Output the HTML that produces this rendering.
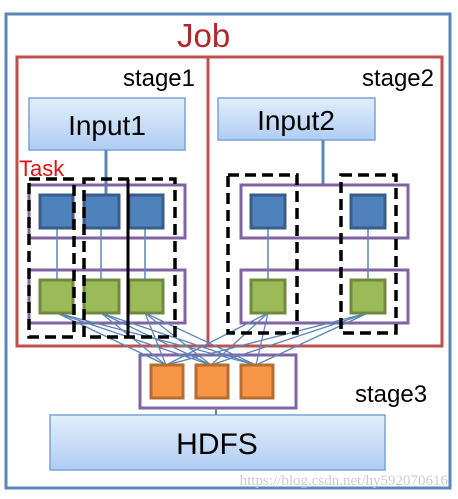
<!DOCTYPE html>
<html><head><meta charset="utf-8"><style>body{margin:0;background:#fff}svg{display:block}</style></head><body>
<svg width="458" height="499" viewBox="0 0 458 499" xmlns="http://www.w3.org/2000/svg" font-family="'Liberation Sans', sans-serif">
<defs>
<linearGradient id="g" x1="0" y1="0" x2="0" y2="1"><stop offset="0" stop-color="#e3eefb"/><stop offset="1" stop-color="#aecdf2"/></linearGradient>
</defs>
<rect x="6" y="14" width="444" height="474" fill="#fff" stroke="#5b86b8" stroke-width="3"/>
<text x="177" y="47" font-size="33" fill="#b5262b">Job</text>
<rect x="17" y="57" width="425" height="289" fill="none" stroke="#c0504d" stroke-width="3"/>
<line x1="208" y1="57" x2="208" y2="346" stroke="#c0504d" stroke-width="3"/>
<text x="195" y="86" font-size="24" text-anchor="end">stage1</text>
<text x="434" y="86" font-size="24" text-anchor="end">stage2</text>
<rect x="29" y="98" width="156" height="52" fill="url(#g)" stroke="#7aa3d6" stroke-width="1.5"/>
<text x="107" y="135" font-size="28" text-anchor="middle">Input1</text>
<rect x="218" y="98" width="157" height="42" fill="url(#g)" stroke="#7aa3d6" stroke-width="1.5"/>
<text x="296" y="130" font-size="28" text-anchor="middle">Input2</text>
<line x1="106" y1="150" x2="106" y2="205" stroke="#5b86b8" stroke-width="3"/>
<line x1="323" y1="140" x2="323" y2="185" stroke="#5b86b8" stroke-width="3"/>
<text x="19" y="176" font-size="22" fill="#e01010">Task</text>
<g fill="none" stroke="#8064a2" stroke-width="3">
<rect x="29" y="185" width="156" height="53"/><rect x="29" y="270" width="156" height="53"/>
<rect x="241" y="185" width="167" height="53"/><rect x="241" y="270" width="167" height="53"/>
<rect x="140" y="355" width="156" height="53"/>
</g>
<g stroke="#5b86b8" stroke-width="1.5">
<line x1="57" y1="229" x2="57" y2="280"/><line x1="101" y1="229" x2="101" y2="280"/><line x1="145" y1="229" x2="145" y2="280"/>
<line x1="268" y1="228" x2="268" y2="280"/><line x1="368" y1="228" x2="368" y2="280"/>
<line x1="216" y1="408" x2="216" y2="415" stroke-width="2"/>
<g stroke-width="1.3">
<line x1="57" y1="313" x2="166" y2="365"/><line x1="57" y1="313" x2="211" y2="365"/><line x1="57" y1="313" x2="256" y2="365"/>
<line x1="101" y1="313" x2="166" y2="365"/><line x1="101" y1="313" x2="211" y2="365"/><line x1="101" y1="313" x2="256" y2="365"/>
<line x1="145" y1="313" x2="166" y2="365"/><line x1="145" y1="313" x2="211" y2="365"/><line x1="145" y1="313" x2="256" y2="365"/>
<line x1="268" y1="313" x2="166" y2="365"/><line x1="268" y1="313" x2="211" y2="365"/><line x1="268" y1="313" x2="256" y2="365"/>
<line x1="368" y1="313" x2="166" y2="365"/><line x1="368" y1="313" x2="211" y2="365"/><line x1="368" y1="313" x2="256" y2="365"/>
</g></g>
<g fill="#4f81bd" stroke="#385d8a" stroke-width="3">
<rect x="40" y="195" width="33" height="33"/><rect x="84" y="195" width="35" height="33"/><rect x="129" y="195" width="34" height="33"/>
<rect x="251" y="195" width="34" height="33"/><rect x="351" y="195" width="34" height="33"/>
</g>
<g fill="#9bbb59" stroke="#71893f" stroke-width="3">
<rect x="40" y="280" width="33" height="33"/><rect x="84" y="280" width="35" height="33"/><rect x="129" y="280" width="34" height="33"/>
<rect x="251" y="280" width="34" height="33"/><rect x="351" y="280" width="34" height="33"/>
</g>
<g fill="#f79646" stroke="#b66d31" stroke-width="3">
<rect x="151" y="365" width="32" height="33"/><rect x="196" y="365" width="32" height="33"/><rect x="241" y="365" width="32" height="33"/>
</g>
<g fill="none" stroke="#000" stroke-width="3.5" stroke-dasharray="11,6">
<rect x="29" y="179" width="45" height="158"/><rect x="84" y="179" width="91" height="158"/>
<rect x="228" y="175" width="69" height="158"/><rect x="341" y="175" width="55" height="158"/>
</g>
<line x1="128" y1="179" x2="128" y2="337" stroke="#000" stroke-width="3"/>
<text x="355" y="402" font-size="24">stage3</text>
<rect x="50" y="415" width="335" height="55" fill="url(#g)" stroke="#7aa3d6" stroke-width="1.5"/>
<text x="217" y="454" font-size="30" text-anchor="middle">HDFS</text>
<text x="448" y="485" font-size="15" fill="#ccc" text-anchor="end" font-family="'Liberation Serif', serif">https://blog.csdn.net/hy592070616</text>
</svg>
</body></html>
